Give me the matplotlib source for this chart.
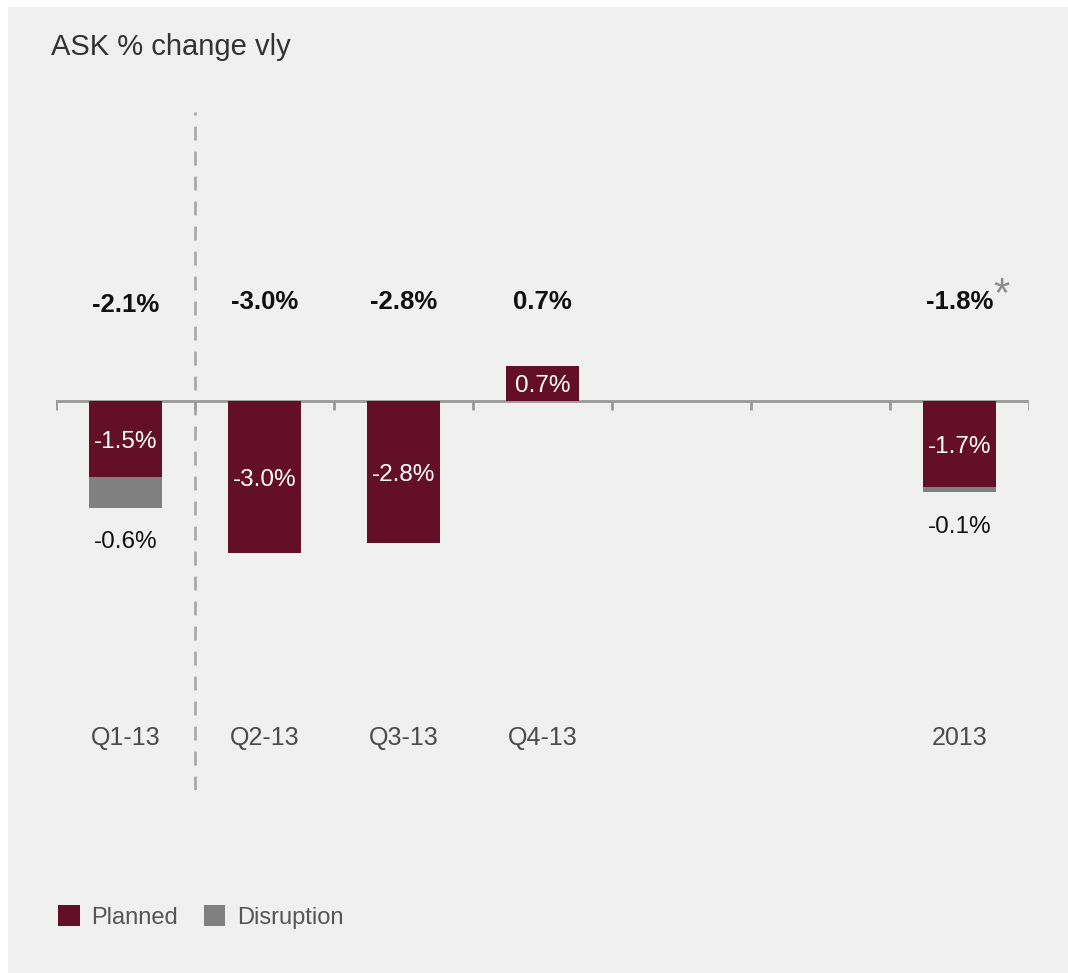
import numpy as np
import matplotlib.pyplot as plt
from matplotlib.patches import Rectangle, Patch

plt.rcParams['font.family'] = ['Liberation Sans', 'DejaVu Sans']

# ASK change vs last year, split into planned capacity and disruption
categories = ['Q1-13', 'Q2-13', 'Q3-13', 'Q4-13', '', '', '2013']
planned = [-1.5, -3.0, -2.8, 0.7, np.nan, np.nan, -1.7]
disruption = [-0.6, 0.0, 0.0, 0.0, np.nan, np.nan, -0.1]
totals = [-2.1, -3.0, -2.8, 0.7, np.nan, np.nan, -1.8]

c_planned = '#620f27'
c_disrupt = '#808080'
bg = '#f0f0f0'

W, H = 1068, 973
fig = plt.figure(figsize=(W / 100, H / 100), dpi=100)
fig.patch.set_facecolor('white')
fig.patches.append(Rectangle((8 / W, 0), 1, 1 - 7 / H, transform=fig.transFigure,
                             facecolor=bg, edgecolor='none', zorder=-10))

ax = fig.add_axes([56 / W, 1 - 790 / H, 973 / W, 678 / H])
ax.set_facecolor('none')
ax.set_xlim(-0.5, 6.5)
ax.set_ylim(-7.67, 5.70)

x = np.arange(len(categories))
pl = np.array(planned)
ds = np.array(disruption)
ax.bar(x, pl, width=0.52, color=c_planned, zorder=3)
ax.bar(x, ds, width=0.52, bottom=np.where(pl < 0, pl, 0), color=c_disrupt, zorder=3)

# zero line with category separators
ax.axhline(0, color='#999999', lw=2, zorder=2)
for b in np.arange(-0.5, 7, 1):
    ax.plot([b, b], [0, -0.18], color='#999999', lw=2, zorder=2, solid_capstyle='butt')

# dashed separator between Q1 and the rest
ax.axvline(0.5, color='#aaaaaa', lw=2, dashes=(5, 4), zorder=1)

for i in range(len(categories)):
    if np.isnan(pl[i]):
        continue
    ax.text(i, pl[i] / 2 - 0.06, f'{pl[i]:.1f}%', ha='center', va='center',
            color='white', fontsize=17.5, zorder=4)
    if ds[i] != 0:
        ax.text(i, pl[i] + ds[i] - 0.68, f'{ds[i]:.1f}%', ha='center', va='center',
                color='#111111', fontsize=17.5)
    ty = 1.89 if i == 0 else 1.95
    ax.text(i, ty, f'{totals[i]:.1f}%', ha='center', va='center',
            color='#111111', fontsize=18.5, fontweight='bold')
    ax.text(i, -6.65, categories[i], ha='center', va='center',
            color='#4a4a4a', fontsize=18)

ax.text(6.30, 2.08, '*', ha='center', va='center', color='#8c8c8c', fontsize=30)

ax.set_xticks([])
ax.set_yticks([])
for s in ax.spines.values():
    s.set_visible(False)

fig.text(51 / W, 1 - 47 / H, 'ASK % change vly', ha='left', va='center',
         color='#333333', fontsize=21)

handles = [Patch(facecolor=c_planned, label='Planned'),
           Patch(facecolor=c_disrupt, label='Disruption')]
fig.legend(handles=handles, loc='center left', bbox_to_anchor=(37 / W, 1 - 917 / H),
           ncol=2, frameon=False, fontsize=17, labelcolor='#555555',
           handlelength=0.9, handleheight=1.0, handletextpad=0.5, columnspacing=1.1)

fig.savefig('out.png', dpi=100, facecolor=fig.get_facecolor())
